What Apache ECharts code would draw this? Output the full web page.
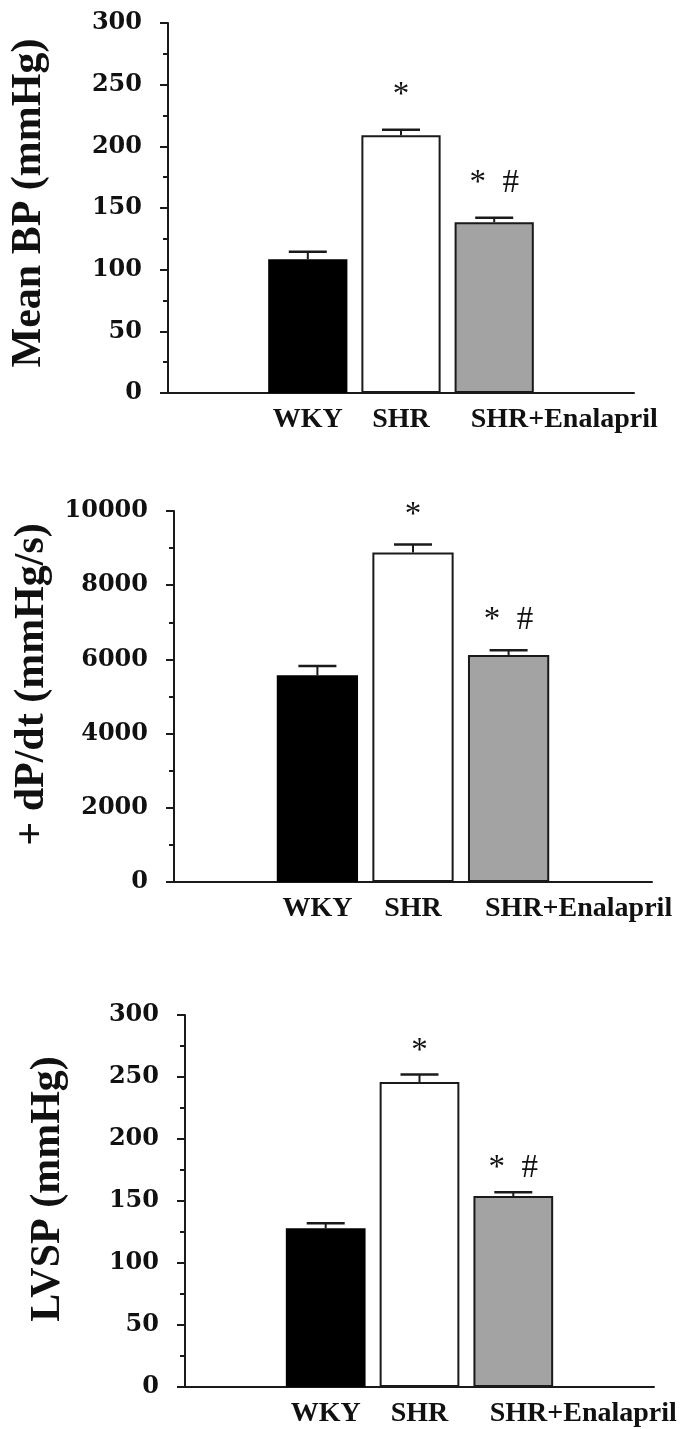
<!DOCTYPE html>
<html>
<head>
<meta charset="utf-8">
<script src="https://cdn.jsdelivr.net/npm/echarts@6/dist/echarts.min.js"></script>
<style>
  html, body { margin: 0; padding: 0; background: #fff; }
  #main { width: 689px; height: 1429px; }
</style>
</head>
<body>
<div id="main"></div>
<script>
var groups = ['WKY', 'SHR', 'SHR+Enalapril'];
var barColors = ['#000000', '#ffffff', '#a3a3a3'];
var marks = ['', '*', '* #'];

var bpMean = [108.5, 209, 138.5];
var bpErr = [6, 4.5, 3.5];
var bpTicks = [0, 300, 50];

var dpMean = [5570, 8880, 6120];
var dpErr = [250, 215, 125];
var dpTicks = [0, 10000, 2000];

var lvMean = [128, 246, 154];
var lvErr = [4, 6, 3];
var lvTicks = [0, 300, 50];

var titles = ['Mean BP (mmHg)', '+ dP/dt (mmHg/s)', 'LVSP (mmHg)'];

(function(){
    var myChart = echarts.init(document.getElementById('main'));
    var ink = '#1a1a1a';
    // empty slot each side so bars sit in the middle of the long x axis
    var cats = [''].concat(groups).concat(['']);

    var grids = [
        {left: 165, right: 55, top: 23, height: 370},
        {left: 174, right: 37, top: 511, height: 371},
        {left: 185, right: 35, top: 1015, height: 372}
    ];
    var nameGaps = [118, 110, 116];
    var namePad = [10, 24, 24];
    var markGap = [18, 13, 7];
    var panels = [[bpMean, bpErr, bpTicks], [dpMean, dpErr, dpTicks], [lvMean, lvErr, lvTicks]];
    var lblFont = {color: '#111', fontFamily: 'Liberation Serif', fontWeight: 'bold', fontSize: 28};

    var xAxes = [], yAxes = [], series = [];
    panels.forEach(function(p, i){
        xAxes.push({
            type: 'category', gridIndex: i, data: cats,
            axisLine: {lineStyle: {color: ink, width: 2}},
            axisTick: {show: false},
            axisLabel: {
                color: '#111', fontFamily: 'Liberation Serif', fontWeight: 'bold',
                fontSize: 28, margin: 13, interval: 0,
                formatter: function(v){
                    return v === groups[2] ? '{w|' + v + '}' : v;
                },
                rich: {
                    w: Object.assign({padding: [0, 0, 0, 140]}, lblFont)
                }
            }
        });
        yAxes.push({
            type: 'value', gridIndex: i,
            min: p[2][0], max: p[2][1], interval: p[2][2],
            name: titles[i], nameLocation: 'middle', nameGap: nameGaps[i],
            nameTextStyle: {
                color: '#111', fontFamily: 'Liberation Serif', fontWeight: 'bold', fontSize: 42,
                padding: [0, 0, 0, namePad[i]]
            },
            axisLine: {show: true, lineStyle: {color: ink, width: 2}},
            axisTick: {show: true, length: 8, lineStyle: {color: ink, width: 2}},
            minorTick: {show: true, splitNumber: 2, length: 5, lineStyle: {color: ink, width: 2}},
            splitLine: {show: false},
            axisLabel: {
                color: '#111', fontFamily: 'DejaVu Serif', fontWeight: 'bold',
                fontSize: 24, margin: 26,
                formatter: function(v){ return String(v); }
            }
        });

        var barData = [null];
        p[0].forEach(function(v, k){
            barData.push({
                value: v,
                itemStyle: {color: barColors[k], borderColor: ink, borderWidth: k === 0 ? 0 : 2}
            });
        });
        barData.push(null);
        series.push({
            type: 'bar', xAxisIndex: i, yAxisIndex: i,
            data: barData, barWidth: '85%', animation: false
        });

        var gap = markGap[i];
        var errData = p[0].map(function(v, k){
            return [k + 1, v, p[1][k], k];
        });
        series.push({
            type: 'custom', xAxisIndex: i, yAxisIndex: i, animation: false,
            data: errData,
            renderItem: function(params, api){
                var x = api.value(0), m = api.value(1), e = api.value(2);
                var k = api.value(3);
                var base = api.coord([x, m]);
                var top = api.coord([x, m + e]);
                var half = 19;
                var kids = [
                    {type: 'line', shape: {x1: base[0], y1: base[1], x2: top[0], y2: top[1]},
                     style: {stroke: ink, lineWidth: 2}},
                    {type: 'line', shape: {x1: top[0] - half, y1: top[1], x2: top[0] + half, y2: top[1]},
                     style: {stroke: ink, lineWidth: 2.5}}
                ];
                if (marks[k]) {
                    kids.push({
                        type: 'text',
                        style: {
                            text: marks[k].replace(' ', '  '), x: top[0], y: top[1] - gap,
                            align: 'center', verticalAlign: 'bottom',
                            font: '33px "Liberation Serif"', fill: '#111'
                        }
                    });
                }
                return {type: 'group', children: kids};
            }
        });
    });

    var option = {
        backgroundColor: '#ffffff',
        animation: false,
        grid: grids,
        xAxis: xAxes,
        yAxis: yAxes,
        series: series
    };
    myChart.setOption(option);
    window.addEventListener('resize', function(){
        myChart.resize();
    });
})();
</script>
</body>
</html>
